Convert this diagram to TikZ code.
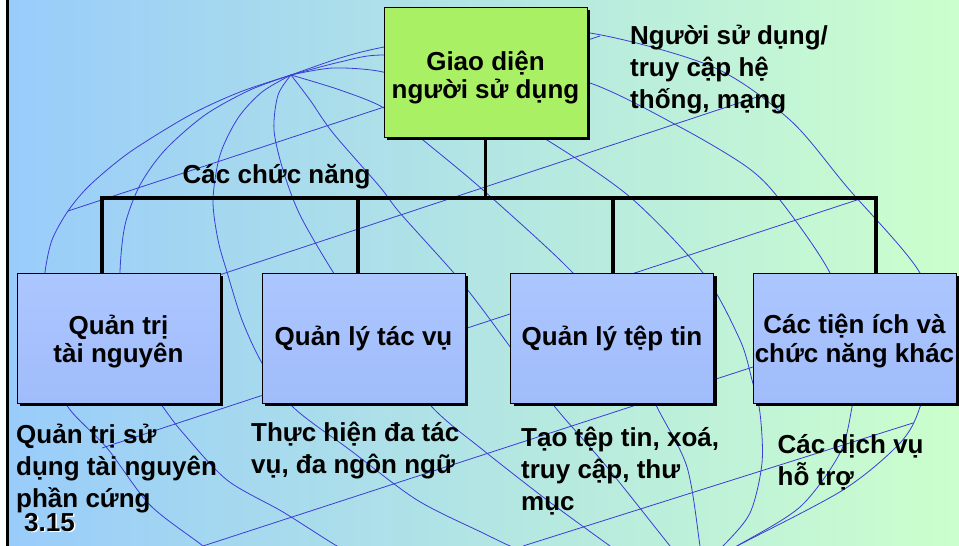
\documentclass[tikz,border=0pt]{standalone}
\usepackage{fontspec}
\setmainfont{Liberation Sans}
\usetikzlibrary{shadows}

\definecolor{bgleft}{RGB}{153,204,250}
\definecolor{bgright}{RGB}{204,255,204}
\definecolor{globeline}{RGB}{60,60,215}
\definecolor{uigreen}{RGB}{170,240,100}
\definecolor{boxtop}{RGB}{172,198,255}
\definecolor{boxbottom}{RGB}{160,188,250}

\newcommand{\boxfont}{\fontsize{26}{28.5}\selectfont\bfseries}
\newcommand{\notefont}{\fontsize{26}{32}\selectfont\bfseries}
\newcommand{\notelines}[1]{\begin{tabular}[t]{@{}l@{}}#1\end{tabular}}
\newcommand{\padtop}[1]{\rule{0pt}{#1pt}}

\begin{document}
\begin{tikzpicture}[x=1pt,y=-1pt,
    globe/.style={globeline,line width=0.8pt},
    panel/.style={draw,line width=1pt,minimum width=203pt,minimum height=130pt,
        inner sep=0pt,align=center,font=\boxfont,
        drop shadow={shadow xshift=3pt,shadow yshift=-3pt,opacity=1,fill=black}},
    uibox/.style={panel,fill=uigreen},
    funcbox/.style={panel,top color=boxtop,bottom color=boxbottom},
    bus/.style={line width=3.3pt},
    note/.style={anchor=base west,inner sep=0pt,font=\notefont}]
    \useasboundingbox (0,0) rectangle (959,546);
    \fill[white] (0,0) rectangle (9,546);
    \shade[left color=bgleft,right color=bgright] (9,0) rectangle (959,546);

    % globe
    \begin{scope}
    \clip (9,0) rectangle (959,546);
    \draw[globe] plot[smooth] coordinates {(291,75) (240,92) (190,115) (130,152) (90,185) (68,211) (52,240) (45,272) (42,310) (48,360) (68,407) (107,448) (150,505) (203,546) (230,570)};
    \draw[globe] plot[smooth] coordinates {(291,75) (250,90) (205,115) (165,150) (140,185) (125,225) (120,272) (122,320) (136,368) (163,407) (183,433) (227,480) (283,512) (337,546) (360,556)};
    \draw[globe] plot[smooth] coordinates {(291,75) (262,92) (238,118) (220,155) (213,200) (218,240) (227,272) (242,320) (262,363) (293,407) (350,450) (417,500) (483,533) (510,546) (530,554)};
    \draw[globe] plot[smooth] coordinates {(291,75) (278,95) (274,130) (283,170) (300,215) (333,272) (375,335) (432,407) (483,450) (547,500) (610,546) (630,560)};
    \draw[globe] plot[smooth] coordinates {(291,75) (310,100) (333,133) (380,187) (400,213) (453,272) (480,306) (511,348) (555,407) (607,467) (670,546) (690,570)};
    \draw[globe] plot[smooth] coordinates {(291,75) (340,90) (384,108) (423,140) (483,190) (573,273) (625,340) (657,407) (687,467) (700,546) (702,560)};
    \draw[globe] plot[smooth] coordinates {(291,75) (333,68) (383,72) (430,90) (490,110) (547,140) (630,197) (703,273) (740,340) (752,380) (760,413) (762,463) (750,513) (723,546) (710,556)};
    \draw[globe] plot[smooth] coordinates {(291,75) (340,62) (384,55) (490,62) (590,83) (680,127) (747,167) (780,200) (830,273) (850,340) (855,380) (852,407) (840,453) (800,507) (737,546) (720,556)};
    \draw[globe] plot[smooth] coordinates {(291,75) (340,58) (384,47) (480,30) (590,33) (713,67) (790,120) (847,187) (920,273) (935,340) (920,407) (900,443) (843,490) (737,546) (720,556)};
    \draw[globe] (68,211) -- (600,36);
    \draw[globe] (44,333) -- (757,97);
    \draw[globe] (102,448) -- (863,198);
    \draw[globe] (203,546) -- (925,311);
    \draw[globe] (523,546) -- (913,423);
    \end{scope}
    \fill[black] (6,0) rectangle (9,546);

    \node[uibox] (ui) at (485.5,72) {\padtop{31}Giao diện\\người sử dụng};
    \node[funcbox] (res) at (118.5,338) {\padtop{27}Quản trị\\tài nguyên};
    \node[funcbox] (task) at (363.5,338) {Quản lý tác vụ};
    \node[funcbox] (file) at (612,338) {Quản lý tệp tin};
    \node[funcbox] (util) at (854.5,338) {\padtop{26}Các tiện ích và\\chức năng khác};

    \coordinate (j1) at (102,198);
    \coordinate (j2) at (358,198);
    \coordinate (j3) at (613,198);
    \coordinate (j4) at (876,198);
    \draw[bus] (ui.south) -- (ui.south |- j1);
    \draw[bus] (j1 |- res.north) -- (j1) -- (j4) -- (j4 |- util.north);
    \draw[bus] (j2) -- (j2 |- task.north);
    \draw[bus] (j3) -- (j3 |- file.north);

    \node[note] (user) at (630,45) {\notelines{Người sử dụng/\\truy cập hệ\\thống, mạng}};
    \node[note] (funcs) at (182.5,183) {Các chức năng};
    \node[note] (resnote) at (16,443) {\notelines{Quản trị sử\\dụng tài nguyên\\phần cứng}};
    \node[note] (tasknote) at (251,441) {\notelines{Thực hiện đa tác\\vụ, đa ngôn ngữ}};
    \node[note] (filenote) at (521,446) {\notelines{Tạo tệp tin, xoá,\\truy cập, thư\\mục}};
    \node[note] (utilnote) at (777.5,453) {\notelines{Các dịch vụ\\hỗ trợ}};
    \node[note,white] (pageshadow) at (25.5,532.5) {3.15};
    \node[note] (page) at (24,531) {3.15};
\end{tikzpicture}
\end{document}
